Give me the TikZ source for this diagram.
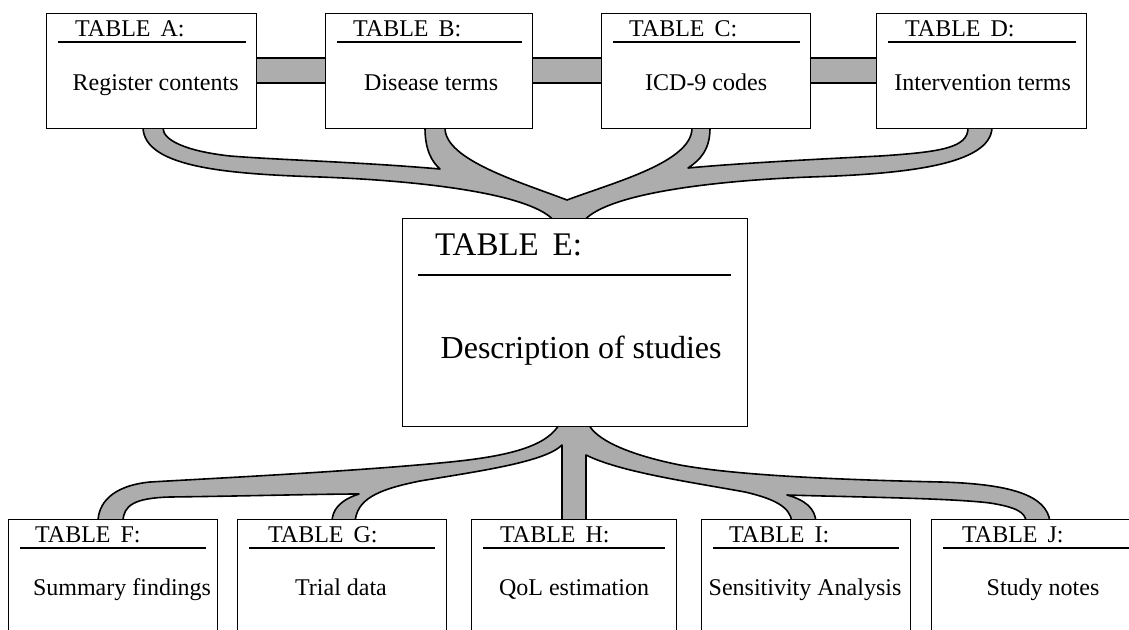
\documentclass[tikz,border=0pt]{standalone}
\usepackage{fontspec}
\setmainfont{Liberation Serif}
\usetikzlibrary{calc}
\definecolor{bandgray}{gray}{0.68}
\pgfdeclarelayer{paper}
\pgfdeclarelayer{bg}
\pgfsetlayers{paper,bg,main}
\begin{document}
\begin{tikzpicture}[x=1pt,y=-1pt,
  tbox/.style={draw=black, line width=1.3pt, fill=white, anchor=north west, inner sep=0pt, minimum height=115pt},
  bbox/.style={tbox, minimum height=140pt},
  head/.style={anchor=base west, inner sep=0pt, font=\fontsize{24}{28}\selectfont},
  body/.style={anchor=base, inner sep=0pt, font=\fontsize{24}{28}\selectfont},
  hline/.style={line width=1.5pt},
  band/.style={fill=bandgray, draw=black, line width=1.6pt, line join=round},
  barline/.style={line width=1.6pt}]
\useasboundingbox (0,0) rectangle (1129,629);
\clip (0,0) rectangle (1129,629);
\begin{pgfonlayer}{paper}
  \fill[white] (0,0) rectangle (1129,629);
\end{pgfonlayer}

% ---------- top row ----------
\node[tbox, minimum width=210pt] (A) at (46,13) {};
\node[tbox, minimum width=207pt] (B) at (325,13) {};
\node[tbox, minimum width=209pt] (C) at (601,13) {};
\node[tbox, minimum width=210pt] (D) at (876,13) {};

\node[head] (Ah) at ($(A.north west)+(29,23)$) {TABLE\, A:};
\node[head] (Bh) at ($(B.north west)+(28,23)$) {TABLE\, B:};
\node[head] (Ch) at ($(C.north west)+(28,23)$) {TABLE\, C:};
\node[head] (Dh) at ($(D.north west)+(29,23)$) {TABLE\, D:};

\foreach \n in {A,B,C,D}{
  \draw[hline] ($(\n.north west)+(12,29)$) -- ($(\n.north east)+(-11,29)$);
}

\node[body] (Ab) at ($(A.north)+(4,77)$) {Register contents};
\node[body] (Bb) at ($(B.north)+(2,77)$) {Disease terms};
\node[body] (Cb) at ($(C.north)+(0,77)$) {ICD-9 codes};
\node[body] (Db) at ($(D.north)+(1,77)$) {Intervention terms};

% ---------- centre box ----------
\node[tbox, minimum width=345pt, minimum height=208pt] (E) at (402,218) {};
\node[head, font=\fontsize{33}{38}\selectfont] (Eh) at ($(E.north west)+(33,37)$) {TABLE\, E:};
\draw[hline] ($(E.north west)+(16,57)$) -- ($(E.north east)+(-17,57)$);
\node[body, font=\fontsize{32}{38}\selectfont] (Eb) at ($(E.north)+(6,140)$) {Description of studies};

% ---------- bottom row ----------
\node[bbox, minimum width=209pt] (F) at (8,519) {};
\node[bbox, minimum width=209pt] (G) at (237,519) {};
\node[bbox, minimum width=205pt] (H) at (471,519) {};
\node[bbox, minimum width=209pt] (I) at (701,519) {};
\node[bbox, minimum width=210pt] (J) at (931,519) {};

\node[head] (Fh) at ($(F.north west)+(27,23)$) {TABLE\, F:};
\node[head] (Gh) at ($(G.north west)+(31,23)$) {TABLE\, G:};
\node[head] (Hh) at ($(H.north west)+(29,23)$) {TABLE\, H:};
\node[head] (Ih) at ($(I.north west)+(28,23)$) {TABLE\, I:};
\node[head] (Jh) at ($(J.north west)+(31,23)$) {TABLE\, J:};

\foreach \n in {F,G,H,I,J}{
  \draw[hline] ($(\n.north west)+(12,29)$) -- ($(\n.north east)+(-12,29)$);
}

\node[body] (Fb) at ($(F.north west)+(114,76)$) {Summary findings};
\node[body] (Gb) at ($(G.north west)+(104,76)$) {Trial data};
\node[body] (Hb) at ($(H.north west)+(103,76)$) {QoL estimation};
\node[body] (Ib) at ($(I.north west)+(104,76)$) {Sensitivity Analysis};
\node[body] (Jb) at ($(J.north west)+(112,76)$) {Study notes};

% ---------- connectors (behind boxes) ----------
\begin{pgfonlayer}{bg}
  % horizontal bars between top boxes
  \foreach \l/\r in {A/B,B/C,C/D}{
    \fill[bandgray] ($(\l.north east)+(0,45)$) rectangle ($(\r.north west)+(0,70)$);
    \draw[barline] ($(\l.north east)+(0,45)$) -- ($(\r.north west)+(0,45)$)
                   ($(\l.north east)+(0,70)$) -- ($(\r.north west)+(0,70)$);
  }
  % upper tree: A,B,C,D -> E
  \path[band] (143,124)
     -- (143,128) .. controls (145,168) and (230,174) .. (320,177)
     .. controls (430,181) and (535,195) .. (555,222)
     -- (583,222)
     .. controls (603,195) and (705,181) .. (810,177)
     .. controls (905,174) and (990,165) .. (992,128) -- (992,124)
     -- (968,124) -- (968,128)
     .. controls (968,148) and (940,152) .. (880,156)
     .. controls (800,160) and (730,164) .. (688,168)
     .. controls (700,160) and (710,150) .. (710,128) -- (710,124)
     -- (692,124) -- (692,128)
     .. controls (692,162) and (615,182) .. (567,200)
     .. controls (520,182) and (445,160) .. (445,128) -- (445,124)
     -- (425,124) -- (425,128)
     .. controls (425,150) and (432,162) .. (440,169)
     .. controls (360,162) and (280,160) .. (230,156)
     .. controls (185,151) and (163,140) .. (163,128) -- (163,124)
     -- cycle;
  % lower tree: E -> F,G,H,I,J
  \path[band] (560,420) -- (560,423)
     .. controls (548,446) and (510,456) .. (450,462)
     .. controls (360,471) and (220,478) .. (150,482)
     .. controls (110,486) and (98,505) .. (98,522)
     -- (123,522)
     .. controls (123,505) and (135,498) .. (170,497)
     .. controls (250,496) and (320,494) .. (359,494)
     .. controls (340,500) and (332,510) .. (332,522)
     -- (355,522)
     .. controls (357,500) and (375,490) .. (420,481)
     .. controls (480,471) and (545,462) .. (562,445)
     -- (562,522) -- (586,522) -- (586,455)
     .. controls (620,472) and (690,482) .. (745,492)
     .. controls (775,499) and (790,507) .. (792,522)
     -- (816,522)
     .. controls (815,508) and (805,500) .. (787,495)
     .. controls (850,497) and (950,498) .. (990,503)
     .. controls (1015,507) and (1026,512) .. (1026,522)
     -- (1050,522)
     .. controls (1047,495) and (1010,484) .. (941,482)
     .. controls (850,480) and (740,476) .. (680,465)
     .. controls (630,455) and (595,440) .. (588,423)
     -- (588,420) -- cycle;
\end{pgfonlayer}
\end{tikzpicture}
\end{document}
